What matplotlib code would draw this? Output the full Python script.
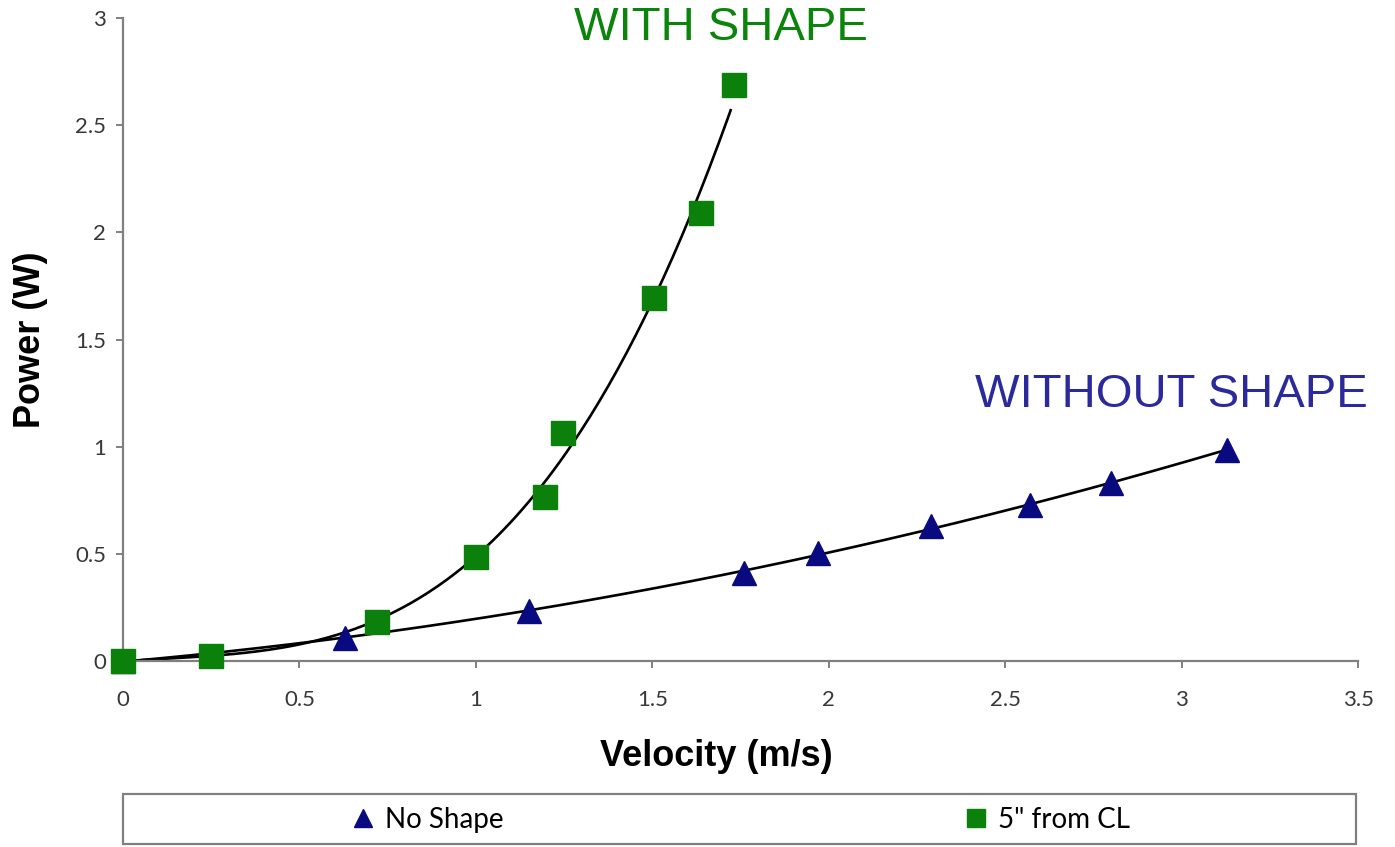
import numpy as np
import matplotlib.pyplot as plt
from matplotlib.patches import Rectangle

# data
no_shape_v = [0.0, 0.63, 1.15, 1.76, 1.97, 2.29, 2.57, 2.80, 3.13]
no_shape_p = [0.0, 0.106, 0.235, 0.41, 0.503, 0.63, 0.728, 0.829, 0.985]

cl5_v = [0.0, 0.25, 0.72, 1.0, 1.195, 1.246, 1.504, 1.638, 1.732]
cl5_p = [0.0, 0.023, 0.183, 0.487, 0.764, 1.062, 1.695, 2.092, 2.688]

x_ticks = [0, 0.5, 1, 1.5, 2, 2.5, 3, 3.5]
y_ticks = [0, 0.5, 1, 1.5, 2, 2.5, 3]

navy = '#0a0a80'
green = '#0b800b'
tick_font = 'Lato'

fig = plt.figure(figsize=(13.95, 8.47), dpi=100)
ax = fig.add_axes([0.0882, 0.2196, 0.8853, 0.7591])

# trendlines (polynomial fits like the spreadsheet trendlines)
c1 = np.polyfit(no_shape_v, no_shape_p, 2)
xs1 = np.linspace(0, max(no_shape_v), 200)
ax.plot(xs1, np.polyval(c1, xs1), color='black', lw=1.9, zorder=2)

c2 = np.polyfit(cl5_v, cl5_p, 3)
xs2 = np.linspace(0, max(cl5_v) - 0.01, 200)
ax.plot(xs2, np.polyval(c2, xs2), color='black', lw=1.9, zorder=2)

ax.plot(no_shape_v, no_shape_p, linestyle='none', marker='^', ms=17,
        color=navy, label='No Shape', zorder=3, clip_on=False)
ax.plot(cl5_v, cl5_p, linestyle='none', marker='s', ms=17,
        color=green, label='5" from CL', zorder=4, clip_on=False)

ax.set_xlim(0, 3.5)
ax.set_ylim(0, 3)
ax.set_xticks(x_ticks)
ax.set_yticks(y_ticks)
ax.set_xticklabels([f'{t:g}' for t in x_ticks])
ax.set_yticklabels([f'{t:g}' for t in y_ticks])

for s in ['top', 'right']:
    ax.spines[s].set_visible(False)
for s in ['left', 'bottom']:
    ax.spines[s].set_color('#808080')
    ax.spines[s].set_linewidth(1.6)
ax.tick_params(axis='both', direction='out', length=5, width=1.4,
               color='#808080', labelcolor='#383838', labelsize=16)
ax.tick_params(axis='x', pad=16)
ax.tick_params(axis='y', pad=7)
for lab in ax.get_xticklabels() + ax.get_yticklabels():
    lab.set_fontfamily(tick_font)

ax.set_xlabel('Velocity (m/s)', fontsize=26, fontweight='bold',
              family='Liberation Sans', va='center')
ax.xaxis.set_label_coords(0.480, -0.149)
ax.set_ylabel('Power (W)', fontsize=26, fontweight='bold',
              family='Liberation Sans', va='center')
ax.yaxis.set_label_coords(-0.0753, 0.499)

fig.text(0.517, 0.967, 'WITH SHAPE', color='#0b840b', fontsize=34,
         family='Liberation Sans', ha='center', va='center')
fig.text(0.840, 0.534, 'WITHOUT SHAPE', color='#2a2a9c', fontsize=34,
         family='Liberation Sans', ha='center', va='center')

# legend box along the bottom
fig.patches.append(Rectangle((0.0882, 0.003), 0.8839, 0.059,
                             transform=fig.transFigure, fill=False,
                             edgecolor='#808080', lw=1.6))
fig.legend(loc='center', bbox_to_anchor=(0.530, 0.032), ncol=2,
           frameon=False, columnspacing=16.5, handletextpad=0.3,
           handlelength=1.0, markerscale=0.8,
           prop={'family': tick_font, 'size': 20})

fig.savefig('out.png', dpi=100)
